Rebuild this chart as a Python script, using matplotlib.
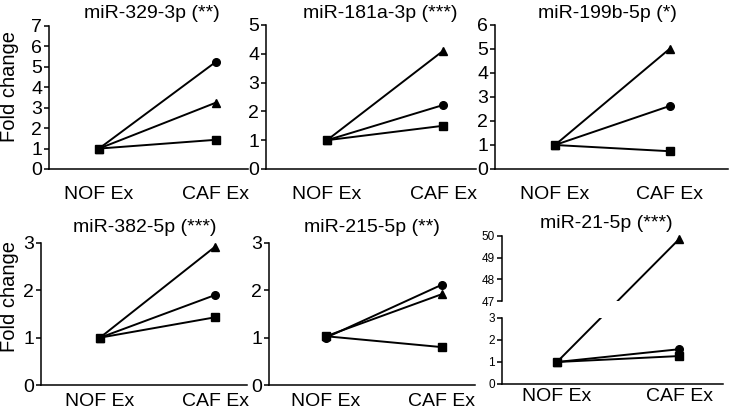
import matplotlib
matplotlib.use("Agg")
import matplotlib.pyplot as plt
import numpy as np

plt.rcParams['font.family'] = ['Liberation Sans', 'DejaVu Sans']

# ---- data ----
conditions = ["NOF Ex", "CAF Ex"]
titles = ["miR-329-3p (**)", "miR-181a-3p (***)", "miR-199b-5p (*)",
          "miR-382-5p (***)", "miR-215-5p (**)", "miR-21-5p (***)"]
circle_nof = [1.0, 1.0, 1.0, 1.0, 1.0, 1.0]
circle_caf = [5.25, 2.22, 2.63, 1.90, 2.12, 1.58]
triangle_nof = [1.0, 1.0, 1.0, 1.0, 1.03, 1.0]
triangle_caf = [3.25, 4.10, 5.02, 2.92, 1.92, 49.85]
square_nof = [1.0, 1.0, 1.0, 1.0, 1.03, 1.0]
square_caf = [1.43, 1.50, 0.74, 1.43, 0.80, 1.27]
ymax = [7, 5, 6, 3, 3, 3]
broken_upper_ticks = [47, 48, 49, 50]

# ---- layout (pixels) ----
W, H = 729, 409
fig = plt.figure(figsize=(W / 100, H / 100), dpi=100)

# left, right, top, bottom, pointNOF, pointCAF
boxes = [
    (49, 248, 26, 169, 99, 216),
    (266, 476, 25, 169, 327, 443),
    (495, 728, 25, 169, 555, 670),
    (41, 247, 243, 385, 100, 215),
    (269, 475, 243, 385, 326, 442),
    (502, 723, 318, 384, 557, 679),
]
title_pos = [(152, 18), (380, 18), (607, 18), (145, 232), (372, 232), (606, 228)]
upper_box = (236, 301)  # top, bottom of broken upper part

LW = 1.4
SPW = 1.1
MS = 5.5


def px_axes(l, r, t, b):
    return fig.add_axes([l / W, 1 - b / H, (r - l) / W, (b - t) / H])


def style(ax, fs):
    for s in ['top', 'right']:
        ax.spines[s].set_visible(False)
    for s in ['left', 'bottom']:
        ax.spines[s].set_linewidth(SPW)
    ax.tick_params(axis='y', direction='out', length=3.5, width=SPW, pad=1.5,
                   labelsize=fs, colors='black')
    ax.tick_params(axis='x', length=0, labelsize=14, colors='black')


series = [
    (circle_nof, circle_caf, 'o', MS),
    (triangle_nof, triangle_caf, '^', MS + 0.5),
    (square_nof, square_caf, 's', MS),
]

for i in range(6):
    l, r, t, b, p0, p1 = boxes[i]
    ax = px_axes(l, r, t, b)
    lo = -(p0 - l) / (p1 - p0)
    hi = 1 + (r - p1) / (p1 - p0)
    ax.set_xlim(lo, hi)
    ax.set_ylim(0, ymax[i])
    ax.set_yticks(np.arange(0, ymax[i] + 1))
    ax.set_xticks([0, 1])
    ax.set_xticklabels(conditions)
    fs = 8.5 if i == 5 else 14
    style(ax, fs)
    if i < 3:
        ax.tick_params(axis='x', pad=12)
    elif i < 5:
        ax.tick_params(axis='x', pad=6)
    else:
        ax.tick_params(axis='x', pad=3)

    if i != 5:
        for nof, caf, m, ms in series:
            ax.plot([0, 1], [nof[i], caf[i]], color='black', lw=LW,
                    marker=m, ms=ms, clip_on=False, zorder=3)
    else:
        axu = px_axes(l, r, upper_box[0], upper_box[1])
        axu.set_xlim(lo, hi)
        axu.set_ylim(broken_upper_ticks[0], broken_upper_ticks[-1])
        axu.set_yticks(broken_upper_ticks)
        style(axu, fs)
        axu.spines['bottom'].set_visible(False)
        axu.set_xticks([])
        for nof, caf, m, ms in series:
            if caf[i] > ymax[i]:
                d0 = ax.transData.transform((0, nof[i]))
                d1 = axu.transData.transform((1, caf[i]))
                for a in (ax, axu):
                    pts = a.transData.inverted().transform([d0, d1])
                    a.plot(pts[:, 0], pts[:, 1], color='black', lw=LW,
                           clip_on=True, zorder=3)
                ax.plot([0], [nof[i]], marker=m, ms=ms, color='black',
                        clip_on=False, zorder=4)
                axu.plot([1], [caf[i]], marker=m, ms=ms, color='black',
                         clip_on=False, zorder=4)
            else:
                ax.plot([0, 1], [nof[i], caf[i]], color='black', lw=LW,
                        marker=m, ms=ms, clip_on=False, zorder=3)

    tx, ty = title_pos[i]
    fig.text(tx / W, 1 - ty / H, titles[i], ha='center', va='baseline',
             fontsize=14)

fig.text(10 / W, 1 - 87 / H, "Fold change", rotation=90, ha='center',
         va='center', fontsize=14.5)
fig.text(10 / W, 1 - 297 / H, "Fold change", rotation=90, ha='center',
         va='center', fontsize=14.5)

fig.savefig("out.png", dpi=100)
